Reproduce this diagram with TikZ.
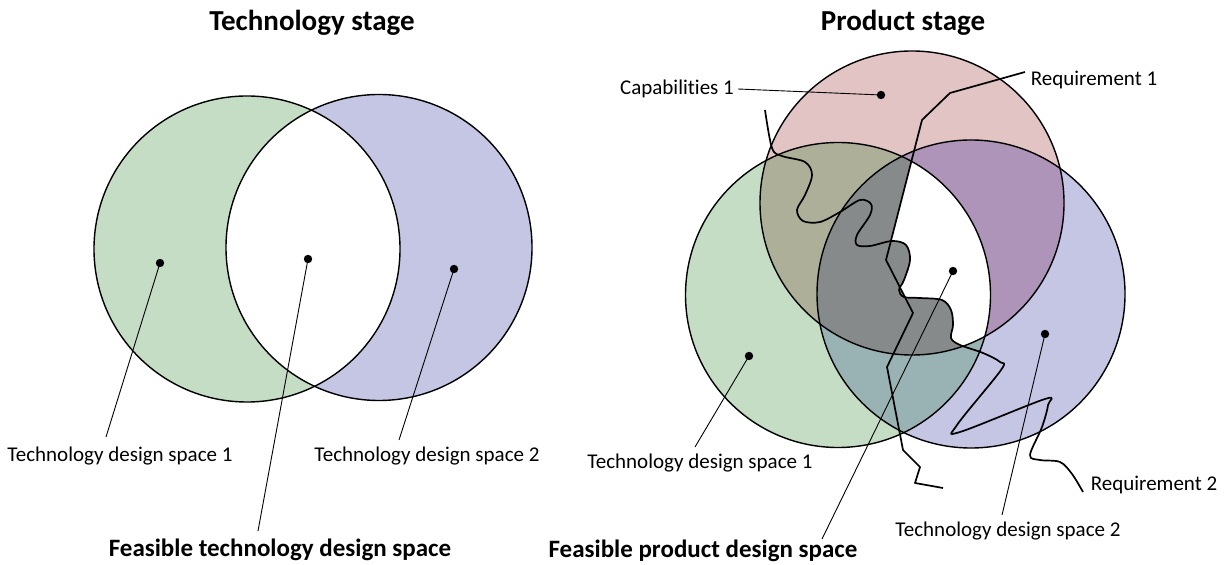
\documentclass[tikz,border=0pt]{standalone}
\usepackage{fontspec}
\setmainfont{Carlito}[Ligatures=NoCommon]
\definecolor{cg}{HTML}{C4DDC4}
\definecolor{cb}{HTML}{C5C5E4}
\definecolor{cp}{HTML}{E2C4C4}
\definecolor{cpg}{HTML}{ADAF99}
\definecolor{cpb}{HTML}{AE94B9}
\definecolor{cgb}{HTML}{99B2B3}
\definecolor{cpgb}{HTML}{868A8A}
\begin{document}
\begin{tikzpicture}[x=0.5pt,y=-0.5pt,
 ring/.style={draw=black, line width=0.7pt},
 dot/.style={circle, fill=black, inner sep=0pt, minimum size=4.2pt},
 lead/.style={draw=black, line width=0.45pt},
 req/.style={draw=black, line width=0.85pt, line join=round},
 lbl/.style={font=\fontsize{10.5}{12}\selectfont, inner sep=0pt},
 ttl/.style={font=\fontsize{14.5}{17}\selectfont\bfseries, inner sep=0pt},
 blbl/.style={font=\fontsize{12.5}{15}\selectfont\bfseries, inner sep=0pt}]
\useasboundingbox (0,0) rectangle (1224,565);

% ---------------- Left panel ----------------
\fill[cg] (247,249) circle[radius=76.5pt];
\fill[cb] (379,247.5) circle[radius=76.5pt];
\begin{scope}
 \clip (247,249) circle[radius=76.5pt];
 \fill[white] (379,247.5) circle[radius=76.5pt];
\end{scope}
\draw[ring] (247,249) circle[radius=76.5pt];
\draw[ring] (379,247.5) circle[radius=76.5pt];

\node[ttl] (t1) at (312,23) {Technology stage};
\node[lbl] (l1) at (120,456) {Technology design space 1};
\node[lbl] (l2) at (427,456) {Technology design space 2};
\node[blbl] (l3) at (280,550) {Feasible technology design space};
\node[dot] (d1) at (160,263) {};
\node[dot] (d2) at (308,259) {};
\node[dot] (d3) at (454,269) {};
\coordinate (e1) at (106,437);
\coordinate (e2) at (258,531);
\coordinate (e3) at (399,440);
\draw[lead] (d1.center) -- (e1);
\draw[lead] (d2.center) -- (e2);
\draw[lead] (d3.center) -- (e3);

% ---------------- Right panel ----------------
\fill[cp] (912,203) circle[radius=76pt];
\fill[cg] (838,295) circle[radius=76.25pt];
\fill[cb] (971,294) circle[radius=77pt];
\begin{scope}
 \clip (838,295) circle[radius=76.25pt];
 \fill[cgb] (971,294) circle[radius=77pt];
\end{scope}
\begin{scope}
 \clip (912,203) circle[radius=76pt];
 \fill[cpg] (838,295) circle[radius=76.25pt];
 \fill[cpb] (971,294) circle[radius=77pt];
 \begin{scope}
  \clip (838,295) circle[radius=76.25pt];
  \fill[cpgb] (971,294) circle[radius=77pt];
  \begin{scope}
   \clip (1025,0) -- (1025,72) -- (950,93) -- (922,120) -- (886,260) -- (913,313) -- (887,367) -- (903,450) -- (1224,565) -- (1224,0) -- cycle;
   \clip (765,0) -- plot[smooth,tension=0.55] coordinates {(765,110) (772,148) (782,156) (805,162) (812,175) (805,195) (797,210) (803,221) (820,222) (840,212) (860,200) (871,204) (870,215) (857,235) (857,245) (870,246) (892,241) (906,245) (910,260) (904,280) (899,290) (904,297) (920,298) (942,300) (951,310) (953,325) (951,338) (960,345) (983,353) (1000,362) (1001,370) (957,425) (960,432) (1045,399) (1048,405) (1042,427) (1030,455) (1040,460) (1060,462) (1072,474) (1083,492)} -- (1224,492) -- (1224,0) -- cycle;
   \fill[white] (971,294) circle[radius=77pt];
  \end{scope}
 \end{scope}
\end{scope}
\draw[ring] (912,203) circle[radius=76pt];
\draw[ring] (971,294) circle[radius=77pt];
\draw[ring] (838,295) circle[radius=76.25pt];

% requirement curves
\draw[req] (1025,72) -- (950,93) -- (922,120) -- (886,260) -- (913,313) -- (887,367) -- (903,450) -- (920,467) -- (915,483) -- (943,488);
\draw[req] plot[smooth,tension=0.55] coordinates {(765,110) (772,148) (782,156) (805,162) (812,175) (805,195) (797,210) (803,221) (820,222) (840,212) (860,200) (871,204) (870,215) (857,235) (857,245) (870,246) (892,241) (906,245) (910,260) (904,280) (899,290) (904,297) (920,298) (942,300) (951,310) (953,325) (951,338) (960,345) (983,353) (1000,362) (1001,370) (957,425) (960,432) (1045,399) (1048,405) (1042,427) (1030,455) (1040,460) (1060,462) (1072,474) (1083,492)};

\node[ttl] (t2) at (903,23) {Product stage};
\node[lbl] (c1) at (677,89) {Capabilities 1};
\node[lbl] (r1) at (1094,80) {Requirement 1};
\node[lbl] (r2) at (1154,485) {Requirement 2};
\node[lbl] (l4) at (700,463) {Technology design space 1};
\node[lbl] (l5) at (1008,531) {Technology design space 2};
\node[blbl] (l6) at (703,551) {Feasible product design space};
\node[dot] (d4) at (881,95) {};
\node[dot] (d5) at (749,356) {};
\node[dot] (d6) at (953,271) {};
\node[dot] (d7) at (1045,334) {};
\coordinate (e4) at (738,89);
\coordinate (e5) at (695,447);
\coordinate (e6) at (822,539);
\coordinate (e7) at (1002,515);
\draw[lead] (e4) -- (d4.center);
\draw[lead] (d5.center) -- (e5);
\draw[lead] (d6.center) -- (e6);
\draw[lead] (d7.center) -- (e7);
\end{tikzpicture}
\end{document}
